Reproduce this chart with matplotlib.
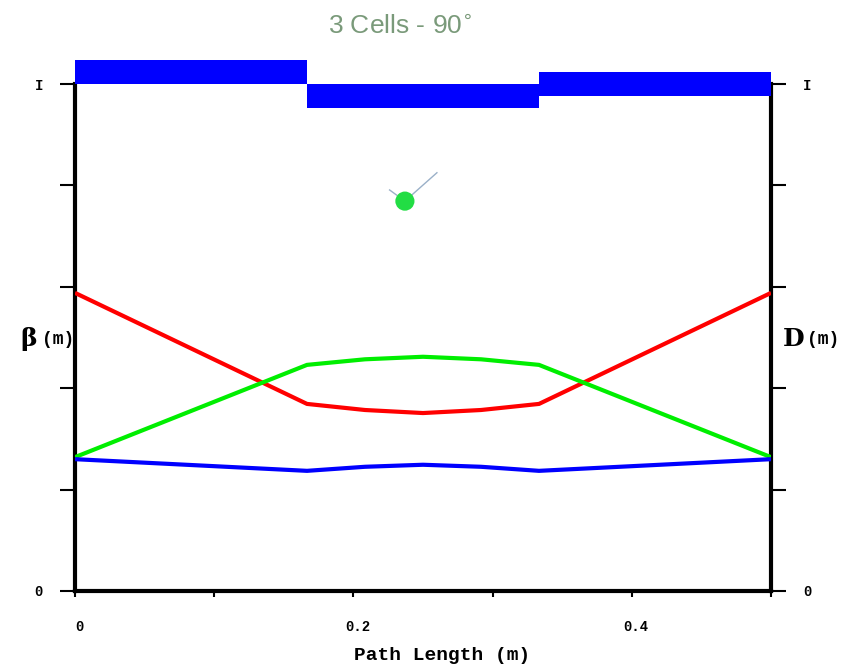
import matplotlib
matplotlib.use("Agg")
import matplotlib.pyplot as plt
import matplotlib.transforms as mtransforms
import numpy as np

# Lattice functions along the 3-cell line (units: m)
s_pos = [0.0, 1/6, 0.2083, 0.25, 0.2917, 1/3, 0.5]
beta_x = [0.588, 0.369, 0.357, 0.351, 0.357, 0.369, 0.588]
beta_y = [0.264, 0.446, 0.457, 0.462, 0.457, 0.446, 0.264]
dispersion = [0.260, 0.237, 0.245, 0.249, 0.245, 0.237, 0.260]

# Magnet blocks: start, end, lower edge, upper edge
mag_start = [0.0, 1/6, 1/3]
mag_end = [1/6, 1/3, 0.5]
mag_low = [1.0, 0.953, 0.977]
mag_high = [1.047, 1.0, 1.024]

# Beam marker
dot_s = [0.237]
dot_v = [0.769]

x_ticks = [0.0, 0.1, 0.2, 0.3, 0.4, 0.5]
x_labels = ["0", "", "0.2", "", "0.4", ""]
y_ticks = [0.0, 0.2, 0.4, 0.6, 0.8, 1.0]
y_labels = ["0", "", "", "", "", "I"]

fig = plt.figure(figsize=(8.51, 6.66), dpi=100)
ax = fig.add_axes([75/851, 1 - 591/666, (771 - 75)/851, (591 - 84)/666])

ax.plot(s_pos, beta_x, color="#ff0000", lw=3, solid_capstyle="butt", zorder=3)
ax.plot(s_pos, beta_y, color="#00ee00", lw=3, solid_capstyle="butt", zorder=3)
ax.plot(s_pos, dispersion, color="#0000ff", lw=3, solid_capstyle="butt", zorder=3)

for a, b, lo, hi in zip(mag_start, mag_end, mag_low, mag_high):
    ax.fill_between([a, b], lo, hi, color="#0000ff", lw=0, clip_on=False, zorder=4)

ax.plot([dot_s[0], dot_s[0] + 0.023], [dot_v[0], dot_v[0] + 0.056],
        color="#9ab0c8", lw=1, zorder=3)
ax.plot([dot_s[0] - 0.011, dot_s[0] - 0.006], [dot_v[0] + 0.022, dot_v[0] + 0.012],
        color="#9ab0c8", lw=1, zorder=3)
ax.scatter(dot_s, dot_v, s=190, color="#22dd44", edgecolors="none", zorder=5)

ax.set_xlim(0, 0.5)
ax.set_ylim(0, 1)

mono = {"family": "Liberation Mono", "weight": "bold"}
ax.set_xticks(x_ticks)
ax.set_xticklabels(x_labels, fontdict=mono, fontsize=10)
ax.set_yticks(y_ticks)
ax.set_yticklabels(y_labels, fontdict=mono, fontsize=10)
ax.tick_params(axis="x", direction="out", length=4, width=1.5, pad=17)
ax.tick_params(axis="y", direction="out", length=11, width=1.5, pad=12,
               right=True, labelright=True)

# nudge the x tick labels a few pixels to the right
shift = mtransforms.ScaledTranslation(4/100, 0, fig.dpi_scale_trans)
for lab in ax.get_xticklabels():
    lab.set_transform(lab.get_transform() + shift)

for side in ("left", "bottom", "right"):
    ax.spines[side].set_linewidth(3)
    ax.spines[side].set_color("black")
ax.spines["top"].set_visible(False)

fig.text(442/851, 1 - 656/666, "Path Length (m)", fontsize=14,
         ha="center", va="center", **mono)
fig.text(20/851, 1 - 339/666, "β", fontsize=18, fontweight="bold",
         family="DejaVu Serif", va="center", ha="left")
fig.text(42/851, 1 - 339/666, "(m)", fontsize=13, va="center", ha="left", **mono)
fig.text(783/851, 1 - 339/666, "D", fontsize=18, fontweight="bold",
         family="DejaVu Serif", va="center", ha="left")
fig.text(807/851, 1 - 339/666, "(m)", fontsize=13, va="center", ha="left", **mono)

fig.text(400/851, 1 - 26/666, "3 Cells - 90$^{\\circ}$", fontsize=19,
         color="#7a9a7a", ha="center", va="center", family="Liberation Sans")

fig.savefig("out.png", dpi=100, facecolor="white")
